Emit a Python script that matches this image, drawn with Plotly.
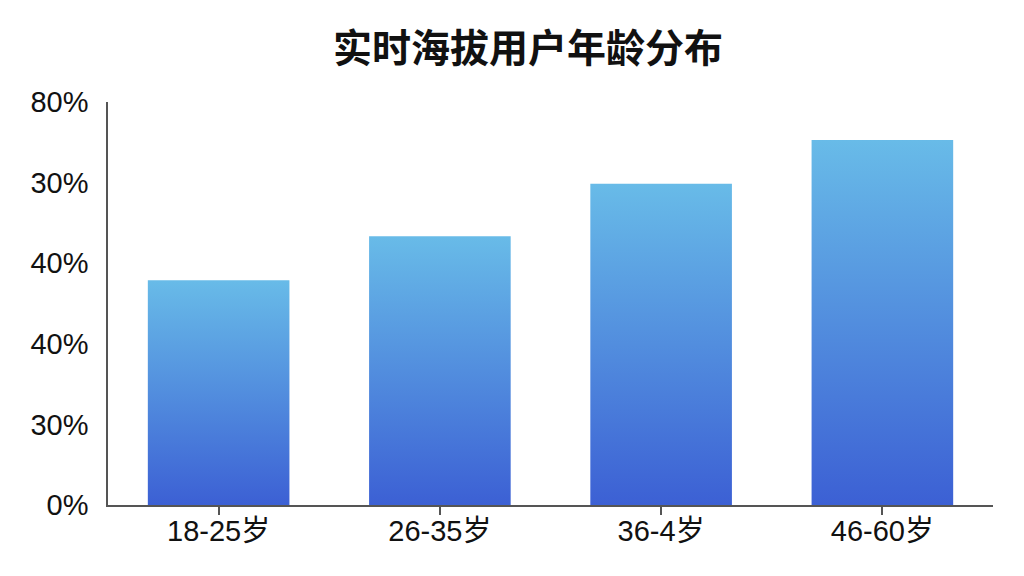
import plotly.graph_objects as go

# data
age_groups = ["18-25岁", "26-35岁", "36-4岁", "46-60岁"]
bar_values = [55.8, 66.7, 79.7, 90.6]
tick_vals = [0, 20, 40, 60, 80, 100]
tick_text = ["0%", "30%", "40%", "40%", "30%", "80%"]

BAR_HALF = 0.32
COLOR_BOTTOM = "#3c60d4"
COLOR_TOP = "#68bbe8"
LABEL_FONT = "Liberation Sans, Arial, Noto Sans CJK SC, sans-serif"

fig = go.Figure()

# each bar is drawn as a filled polygon so it can carry a vertical gradient
for i, v in enumerate(bar_values):
    fig.add_trace(go.Scatter(
        x=[i - BAR_HALF, i - BAR_HALF, i + BAR_HALF, i + BAR_HALF, i - BAR_HALF],
        y=[0, v, v, 0, 0],
        mode="lines",
        line=dict(width=0),
        fill="toself",
        fillgradient=dict(
            type="vertical",
            colorscale=[[0, COLOR_BOTTOM], [1, COLOR_TOP]],
        ),
        hoverinfo="skip",
        showlegend=False,
    ))

# the page body adds an 8px offset, margins are compensated for that
fig.update_layout(
    width=1024,
    height=576,
    paper_bgcolor="white",
    plot_bgcolor="white",
    margin=dict(l=100, r=39, t=94, b=79),
    title=dict(
        text="<b>实时海拔用户年龄分布</b>",
        font=dict(family="Noto Sans CJK SC", size=39, color="#111111"),
        x=(528 - 8) / 1024, xanchor="center",
        y=1 - 40 / 576, yanchor="middle", yref="container",
    ),
    showlegend=False,
)

fig.update_xaxes(
    range=[-0.5, 3.5],
    tickvals=list(range(len(age_groups))),
    ticktext=age_groups,
    showgrid=False,
    zeroline=False,
    showline=True,
    linecolor="#555555",
    linewidth=1.5,
    ticks="outside",
    ticklen=8,
    tickwidth=1.5,
    tickcolor="#555555",
    ticklabelstandoff=-9,
    tickfont=dict(family=LABEL_FONT, size=29, color="#111111"),
)

fig.update_yaxes(
    range=[0, 100],
    tickvals=tick_vals,
    ticktext=tick_text,
    showgrid=False,
    zeroline=False,
    showline=True,
    linecolor="#555555",
    linewidth=1.5,
    ticks="",
    ticklabelstandoff=12,
    tickfont=dict(family=LABEL_FONT, size=29, color="#111111"),
)

fig.write_html("out.html")
